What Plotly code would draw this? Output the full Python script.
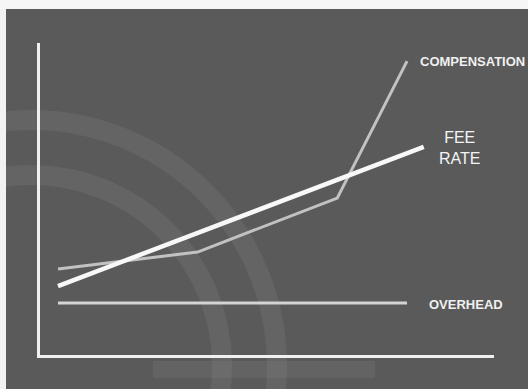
import plotly.graph_objects as go

# ---- data ----
stage = [1, 3, 5, 6]
compensation = [27.6, 33.0, 50.3, 94.2]
fee_x = [1, 6.24]
fee_rate = [22.1, 66.7]
overhead_x = [1, 6]
overhead = [16.7, 16.7]
labels = ["COMPENSATION", "FEE<br>RATE", "OVERHEAD"]

W, H = 528, 389
BG = "#5a5a5a"
BAND = "rgba(130,130,130,0.25)"

def px(x):
    return x / W

def py(y):
    return (H - y) / H

fig = go.Figure()
fig.add_trace(go.Scatter(x=stage, y=compensation, mode="lines",
                         line=dict(color="#c2c2c2", width=3), hoverinfo="skip"))
fig.add_trace(go.Scatter(x=overhead_x, y=overhead, mode="lines",
                         line=dict(color="#d4d4d4", width=3), hoverinfo="skip"))
fig.add_trace(go.Scatter(x=fee_x, y=fee_rate, mode="lines",
                         line=dict(color="#f8f8f8", width=4.5), hoverinfo="skip"))

shapes = []
# panel
shapes.append(dict(type="rect", xref="paper", yref="paper", x0=px(6), x1=1, y0=0, y1=py(9),
                   fillcolor=BG, line=dict(width=0), layer="below"))
# decorative arcs
cx, cy = 31, 366
for r in (191, 246):
    shapes.append(dict(type="circle", xref="paper", yref="paper",
                       x0=px(cx - r), x1=px(cx + r), y0=py(cy + r), y1=py(cy - r),
                       line=dict(color=BAND, width=20), fillcolor="rgba(0,0,0,0)", layer="below"))
# decorative bottom bar
shapes.append(dict(type="rect", xref="paper", yref="paper", x0=px(153), x1=px(375), y0=py(378), y1=py(361),
                   fillcolor="rgba(130,130,130,0.22)", line=dict(width=0), layer="below"))
# white page edges
shapes.append(dict(type="rect", xref="paper", yref="paper", x0=0, x1=px(6), y0=0, y1=1,
                   fillcolor="#f2f2f2", line=dict(width=0), layer="below"))
shapes.append(dict(type="rect", xref="paper", yref="paper", x0=0, x1=1, y0=py(9), y1=1,
                   fillcolor="#f6f6f6", line=dict(width=0), layer="below"))

ann_font_b = dict(family="Liberation Sans", size=13, color="#f0f0f0")
annotations = [
    dict(x=6.15, y=94.2, text="<b>" + labels[0] + "</b>", xanchor="left", yanchor="middle",
         showarrow=False, font=ann_font_b),
    dict(x=6.745, y=66.3, text=labels[1], xanchor="center", yanchor="middle",
         showarrow=False, font=dict(family="Liberation Sans", size=16, color="#f4f4f4")),
    dict(x=6.29, y=16.3, text="<b>" + labels[2] + "</b>", xanchor="left", yanchor="middle",
         showarrow=False, font=ann_font_b),
]

fig.update_layout(
    width=W, height=H,
    margin=dict(l=0, r=0, t=0, b=0),
    paper_bgcolor="#f4f4f4",
    plot_bgcolor="rgba(0,0,0,0)",
    showlegend=False,
    shapes=shapes,
    annotations=annotations,
    xaxis=dict(domain=[px(40), px(494)], range=[0.742, 7.246], showgrid=False, zeroline=False,
               showticklabels=False, ticks="", showline=True, linecolor="#f0f0f0", linewidth=3),
    yaxis=dict(domain=[py(355), py(43)], range=[0, 100], showgrid=False, zeroline=False,
               showticklabels=False, ticks="", showline=True, linecolor="#f0f0f0", linewidth=3),
)
fig.update_traces(cliponaxis=False)

fig.write_html("out.html")
